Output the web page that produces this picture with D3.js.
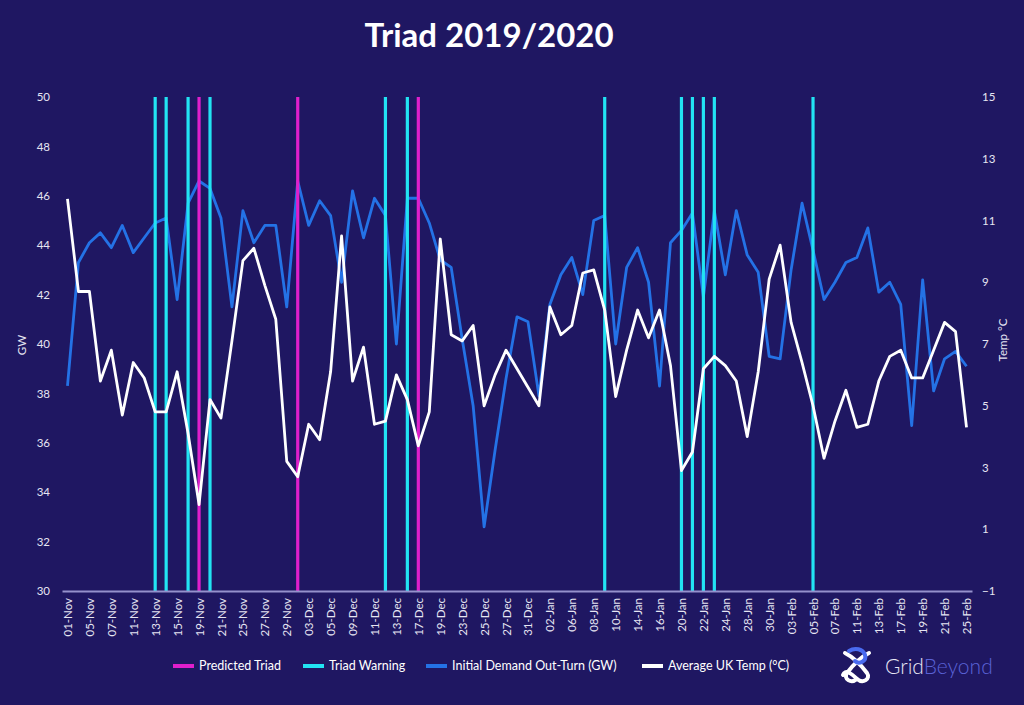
<!DOCTYPE html>
<html>
<head>
<meta charset="utf-8">
<script src="https://cdn.jsdelivr.net/npm/d3@7"></script>
<style>
  html, body { margin: 0; padding: 0; background: #1f1762; }
  svg { display: block; font-family: Lato, "Open Sans", sans-serif; }
</style>
</head>
<body>
<svg id="chart" width="1024" height="705"></svg>
<script>
// weekdays, 01-Nov-2019 .. 25-Feb-2020
const days = [
  '01-Nov', '04-Nov', '05-Nov', '06-Nov', '07-Nov', '08-Nov', '11-Nov', '12-Nov', '13-Nov', '14-Nov',
  '15-Nov', '18-Nov', '19-Nov', '20-Nov', '21-Nov', '22-Nov', '25-Nov', '26-Nov', '27-Nov', '28-Nov',
  '29-Nov', '02-Dec', '03-Dec', '04-Dec', '05-Dec', '06-Dec', '09-Dec', '10-Dec', '11-Dec', '12-Dec',
  '13-Dec', '16-Dec', '17-Dec', '18-Dec', '19-Dec', '20-Dec', '23-Dec', '24-Dec', '25-Dec', '26-Dec',
  '27-Dec', '30-Dec', '31-Dec', '01-Jan', '02-Jan', '03-Jan', '06-Jan', '07-Jan', '08-Jan', '09-Jan',
  '10-Jan', '13-Jan', '14-Jan', '15-Jan', '16-Jan', '17-Jan', '20-Jan', '21-Jan', '22-Jan', '23-Jan',
  '24-Jan', '27-Jan', '28-Jan', '29-Jan', '30-Jan', '31-Jan', '03-Feb', '04-Feb', '05-Feb', '06-Feb',
  '07-Feb', '10-Feb', '11-Feb', '12-Feb', '13-Feb', '14-Feb', '17-Feb', '18-Feb', '19-Feb', '20-Feb',
  '21-Feb', '24-Feb', '25-Feb'
];

// Initial Demand Out-Turn (GW)
const demand = [
  38.3, 43.3, 44.1, 44.5, 43.9, 44.8, 43.7, 44.3, 44.9, 45.1,
  41.8, 45.7, 46.6, 46.3, 45.1, 41.5, 45.4, 44.1, 44.8, 44.8,
  41.5, 46.6, 44.8, 45.8, 45.2, 42.5, 46.2, 44.3, 45.9, 45.2,
  40.0, 45.9, 45.9, 44.9, 43.4, 43.1, 40.2, 37.5, 32.6, 35.7,
  38.6, 41.1, 40.9, 37.9, 41.6, 42.8, 43.5, 42.0, 45.0, 45.2,
  40.0, 43.1, 43.9, 42.5, 38.3, 44.1, 44.6, 45.3, 41.9, 45.4,
  42.8, 45.4, 43.6, 42.9, 39.5, 39.4, 43.0, 45.7, 43.8, 41.8,
  42.5, 43.3, 43.5, 44.7, 42.1, 42.5, 41.6, 36.7, 42.6, 38.1,
  39.4, 39.7, 39.1
];

// Average UK Temp (°C)
const temp = [
  11.7, 8.7, 8.7, 5.8, 6.8, 4.7, 6.4, 5.9, 4.8, 4.8,
  6.1, 4.1, 1.8, 5.2, 4.6, 7.1, 9.7, 10.1, 8.9, 7.8,
  3.2, 2.7, 4.4, 3.9, 6.1, 10.5, 5.8, 6.9, 4.4, 4.5,
  6.0, 5.2, 3.7, 4.8, 10.4, 7.3, 7.1, 7.6, 5.0, 6.0,
  6.8, 6.2, 5.6, 5.0, 8.2, 7.3, 7.6, 9.3, 9.4, 8.1,
  5.3, 6.8, 8.1, 7.2, 8.1, 6.3, 2.9, 3.5, 6.2, 6.6,
  6.3, 5.8, 4.0, 6.1, 9.1, 10.2, 7.7, 6.4, 5.0, 3.3,
  4.5, 5.5, 4.3, 4.4, 5.8, 6.6, 6.8, 5.9, 5.9, 6.8,
  7.7, 7.4, 4.3
];

const triadWarning = ['13-Nov', '14-Nov', '18-Nov', '20-Nov', '12-Dec', '16-Dec', '09-Jan',
  '20-Jan', '21-Jan', '22-Jan', '23-Jan', '05-Feb'];
const predictedTriad = ['19-Nov', '02-Dec', '17-Dec'];

const gwTicks = [30, 32, 34, 36, 38, 40, 42, 44, 46, 48, 50];
const tempTicks = [-1, 1, 3, 5, 7, 9, 11, 13, 15];
const dayTicks = days.filter((_, i) => i % 2 === 0);

const legendItems = [
  { label: 'Predicted Triad', color: '#e01fcc' },
  { label: 'Triad Warning', color: '#22e3f3' },
  { label: 'Initial Demand Out-Turn (GW)', color: '#2472e6' },
  { label: 'Average UK Temp (°C)', color: '#ffffff' },
];

const colors = {
  demand: '#2472e6',
  temp: '#ffffff',
  warning: '#22e3f3',
  triad: '#e01fcc',
  axis: '#9591cc',
  text: '#e6e5f2',
};

const plotLeft = 62, plotRight = 972, plotTop = 97, plotBottom = 591;

const svg = d3.select('#chart');

const x = d3.scalePoint().domain(days).range([plotLeft, plotRight]).padding(0.5);
const yGW = d3.scaleLinear().domain([30, 50]).range([plotBottom, plotTop]);
const yT = d3.scaleLinear().domain([-1, 15]).range([plotBottom, plotTop]);

// title
svg.append('text')
  .attr('x', 489)
  .attr('y', 47)
  .attr('text-anchor', 'middle')
  .attr('fill', '#ffffff')
  .attr('font-size', 33)
  .attr('font-weight', 700)
  .text('Triad 2019/2020');

// demand line
const demandLine = d3.line()
  .x((_, i) => x(days[i]))
  .y(d => yGW(d));

svg.append('path')
  .datum(demand)
  .attr('fill', 'none')
  .attr('stroke', colors.demand)
  .attr('stroke-width', 2.8)
  .attr('stroke-linejoin', 'round')
  .attr('d', demandLine);

// triad markers
svg.selectAll('.warning')
  .data(triadWarning)
  .enter()
  .append('line')
  .attr('class', 'warning')
  .attr('x1', d => x(d))
  .attr('x2', d => x(d))
  .attr('y1', yGW(50))
  .attr('y2', plotBottom)
  .attr('stroke', colors.warning)
  .attr('stroke-width', 3.2);

svg.selectAll('.triad')
  .data(predictedTriad)
  .enter()
  .append('line')
  .attr('class', 'triad')
  .attr('x1', d => x(d))
  .attr('x2', d => x(d))
  .attr('y1', yGW(50))
  .attr('y2', plotBottom)
  .attr('stroke', colors.triad)
  .attr('stroke-width', 3.2);

// temperature line
const tempLine = d3.line()
  .x((_, i) => x(days[i]))
  .y(d => yT(d));

svg.append('path')
  .datum(temp)
  .attr('fill', 'none')
  .attr('stroke', colors.temp)
  .attr('stroke-width', 2.8)
  .attr('stroke-linejoin', 'round')
  .attr('d', tempLine);

// axes
const gLeft = svg.append('g')
  .attr('transform', `translate(${plotLeft},0)`)
  .call(d3.axisLeft(yGW).tickValues(gwTicks).tickSize(0).tickPadding(12));

const gRight = svg.append('g')
  .attr('transform', `translate(${plotRight},0)`)
  .call(d3.axisRight(yT).tickValues(tempTicks).tickSize(0).tickPadding(10));

const gBottom = svg.append('g')
  .attr('transform', `translate(0,${plotBottom})`)
  .call(d3.axisBottom(x).tickValues(dayTicks).tickSize(0));

[gLeft, gRight].forEach(g => g.select('.domain').remove());

gBottom.select('.domain')
  .attr('stroke', colors.axis)
  .attr('stroke-width', 2);

svg.selectAll('.tick text')
  .attr('fill', colors.text)
  .attr('font-family', 'Lato, sans-serif')
  .attr('font-size', 11.5);

gBottom.selectAll('.tick text')
  .attr('transform', 'rotate(-90)')
  .attr('text-anchor', 'end')
  .attr('x', -7)
  .attr('y', 0)
  .attr('dy', '0.35em')
  .attr('font-size', 11.5);

svg.append('text')
  .attr('transform', 'translate(26,345) rotate(-90)')
  .attr('text-anchor', 'middle')
  .attr('fill', colors.text)
  .attr('font-size', 11.5)
  .text('GW');

svg.append('text')
  .attr('transform', 'translate(1007,340) rotate(-90)')
  .attr('text-anchor', 'middle')
  .attr('fill', colors.text)
  .attr('font-size', 11.5)
  .text('Temp °C');

// legend
const legendX = [173, 303, 426, 642];
const legend = svg.selectAll('.legend')
  .data(legendItems)
  .enter()
  .append('g')
  .attr('class', 'legend')
  .attr('transform', (_, i) => `translate(${legendX[i]},666)`);

legend.append('rect')
  .attr('x', 0)
  .attr('y', -2)
  .attr('width', 21)
  .attr('height', 4)
  .attr('fill', d => d.color);

legend.append('text')
  .attr('x', 26)
  .attr('y', 0)
  .attr('dy', '0.35em')
  .attr('fill', '#ffffff')
  .attr('font-size', 12.5)
  .text(d => d.label);

// logo
const logo = svg.append('g')
  .attr('transform', 'translate(857,667)');

logo.append('path')
  .attr('d', 'M-12,-14 C-4,-10 4,-2 10,6 C14,12 6,17 0,12 C-6,6 -12,2 -14,8')
  .attr('fill', 'none')
  .attr('stroke', '#ffffff')
  .attr('stroke-width', 4)
  .attr('stroke-linecap', 'round');

logo.append('path')
  .attr('d', 'M12,-14 C4,-10 -4,-2 -10,6 C-14,12 -6,17 0,12')
  .attr('fill', 'none')
  .attr('stroke', '#ffffff')
  .attr('stroke-width', 4)
  .attr('stroke-linecap', 'round');

logo.append('path')
  .attr('d', 'M-8,-16 C-2,-20 6,-18 8,-12 C10,-6 2,-2 -2,-6')
  .attr('fill', 'none')
  .attr('stroke', '#4a6cf0')
  .attr('stroke-width', 4)
  .attr('stroke-linecap', 'round');

const logoText = svg.append('text')
  .attr('x', 885)
  .attr('y', 674)
  .attr('font-size', 21)
  .attr('font-weight', 300);

logoText.append('tspan')
  .attr('fill', '#e8e7f5')
  .text('Grid');

logoText.append('tspan')
  .attr('fill', '#5a62d6')
  .text('Beyond');
</script>
</body>
</html>
